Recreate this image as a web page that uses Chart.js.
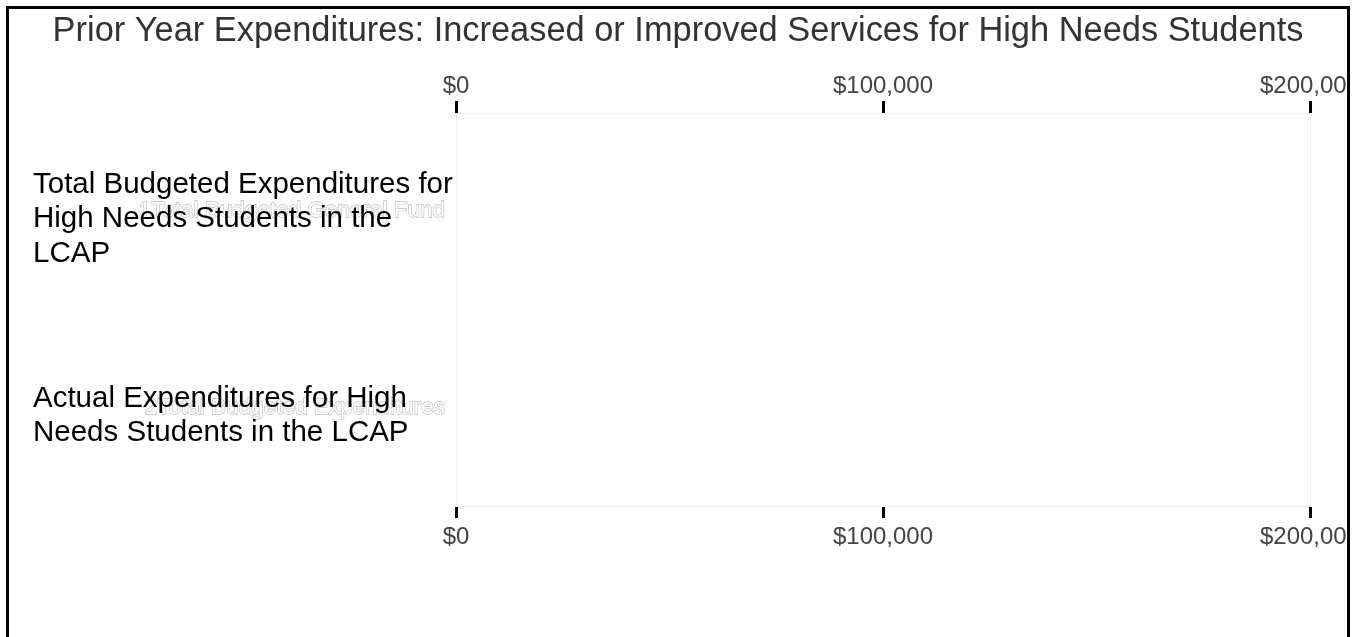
<!DOCTYPE html>
<html>
<head>
<meta charset="utf-8">
<script src="https://cdn.jsdelivr.net/npm/chart.js@4/dist/chart.umd.min.js"></script>
<style>
  html, body { margin: 0; padding: 0; background: #fff; overflow: hidden; }
  #frame {
    position: absolute; left: 6px; top: 6px;
    width: 1338px; height: 700px;
    border: 3px solid #000; overflow: hidden;
  }
  #chart { display: block; }
</style>
</head>
<body>
<div id="frame"><canvas id="chart" width="1338" height="690"></canvas></div>
<script>
/* DATA */
const TITLE = 'Prior Year Expenditures: Increased or Improved Services for High Needs Students';
const categories = ['1Total Budgeted General Fund', '2Total Budgeted Expenditures'];
const rowLabels = [
  ['Total Budgeted Expenditures for', 'High Needs Students in the', 'LCAP'],
  ['Actual Expenditures for High', 'Needs Students in the LCAP']
];
const expenditures = [0, 0];
const xTicks = [0, 100000, 200000];

const FONT = 'Arial, "Liberation Sans", sans-serif';
const money = v => '$' + Number(v).toLocaleString('en-US');

/* black wrapped row labels, drawn over the faint tick labels */
const rowLabelPlugin = {
  id: 'rowLabels',
  afterDraw(chart) {
    const ctx = chart.ctx, y = chart.scales.y;
    ctx.save();
    ctx.font = '29.5px ' + FONT;
    ctx.fillStyle = '#000';
    ctx.textAlign = 'left';
    ctx.textBaseline = 'middle';
    rowLabels.forEach((lines, i) => {
      const cy = y.getPixelForValue(i) + 8;
      lines.forEach((t, j) => {
        ctx.fillText(t, 24, cy + (j - (lines.length - 1) / 2) * 34.5);
      });
    });
    ctx.restore();
  }
};

const edgeGrid = c => (c.index === 0 || c.index === xTicks.length - 1) ? '#eeeeee' : 'rgba(0,0,0,0)';

const xAxis = (pos, h, grid, pad) => ({
  type: 'linear',
  position: pos,
  min: xTicks[0],
  max: xTicks[xTicks.length - 1],
  afterBuildTicks: s => { s.ticks = xTicks.map(v => ({ value: v })); },
  afterFit: s => { s.paddingLeft = 0; s.paddingRight = 0; s.height = h; },
  border: { display: true, color: '#eeeeee', width: 1 },
  grid: {
    drawOnChartArea: grid,
    color: edgeGrid,
    tickColor: '#000',
    tickWidth: 3,
    tickLength: 12
  },
  ticks: {
    color: '#444',
    font: { family: FONT, size: 24 },
    padding: pad,
    maxRotation: 0,
    callback: v => money(v)
  }
});

new Chart(document.getElementById('chart').getContext('2d'), {
  type: 'bar',
  data: {
    labels: categories,
    datasets: [{
      label: 'Expenditures',
      data: expenditures,
      backgroundColor: '#4472c4',
      xAxisID: 'x'
    }]
  },
  options: {
    indexAxis: 'y',
    responsive: false,
    animation: false,
    layout: { padding: { left: 0, right: 0, top: 0, bottom: 133 } },
    plugins: {
      legend: { display: false },
      tooltip: { enabled: false },
      title: {
        display: true,
        text: TITLE,
        color: '#333',
        font: { family: FONT, size: 34.4, weight: 'normal' },
        padding: { top: 2, bottom: 0 }
      }
    },
    scales: {
      x: xAxis('bottom', 60, true, 5),
      x2: xAxis('top', 104 - 2 - 34.4 * 1.2, false, 0),
      y: {
        afterFit: s => { s.width = 447; },
        border: { display: true, color: '#eeeeee', width: 1 },
        grid: { display: false, drawTicks: false },
        ticks: {
          color: '#fff',
          textStrokeColor: '#bdbdbd',
          textStrokeWidth: 1.3,
          font: { family: FONT, size: 22.5 },
          padding: 11
        }
      },
      // empty right-hand gutter so the plot stops at $200,000
      yGutter: {
        type: 'category',
        position: 'right',
        afterFit: s => { s.width = 37; },
        border: { display: false },
        grid: { display: false, drawTicks: false },
        ticks: { display: false }
      }
    }
  },
  plugins: [rowLabelPlugin]
});
</script>
</body>
</html>
